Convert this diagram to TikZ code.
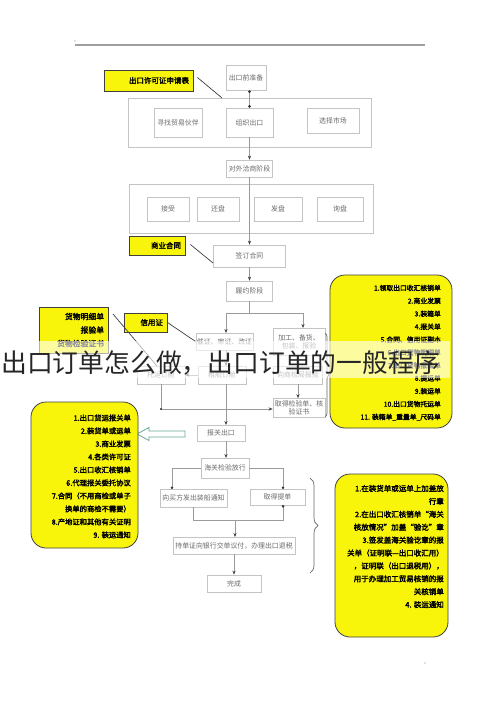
\documentclass[tikz,border=0pt]{standalone}
\usepackage{fontspec}
\newfontfamily\cjk[AutoFakeBold=2.5]{Noto Sans CJK SC}
\usetikzlibrary{arrows.meta,decorations.pathreplacing,calc}
\definecolor{ylw}{HTML}{F9F50A}
\definecolor{gline}{HTML}{9A9A9A}
\definecolor{gbord}{HTML}{C4C4C4}
\definecolor{gtext}{HTML}{6A6A6A}
\definecolor{hollow}{HTML}{6AAA96}
\begin{document}
\begin{tikzpicture}[x=1pt,y=-1pt,
  gbox/.style={draw=gbord, fill=white, line width=0.7pt, inner sep=0pt,
    font=\cjk\fontsize{6.9}{8.2}\selectfont, text=gtext, align=center},
  bigbox/.style={draw=gbord, line width=0.7pt, inner sep=0pt},
  ybox/.style={draw=black!75, fill=ylw, line width=0.8pt, inner ysep=0pt, inner xsep=4pt,
    font=\cjk\bfseries\fontsize{7.5}{9}\selectfont, align=right},
  ylist/.style={draw=black!75, fill=ylw, line width=0.8pt, rounded corners=15pt, inner sep=0pt},
  ytext/.style={inner sep=0pt, align=right, text=black},
  flow/.style={draw=gline, line width=0.7pt},
  arr/.style={flow, -{Stealth[length=4pt,width=3.2pt,color=black!75]}},
  dotarr/.style={flow, -{Circle[length=2.6pt,color=black!80]}},
  conn/.style={draw=black!75, line width=0.7pt},
  bracestyle/.style={draw=black!60, line width=0.7pt}
]
\useasboundingbox (0,0) rectangle (500,708);
\fill[white] (0,0) rectangle (500,708);

% top rule and specks
\draw[gray!75, line width=1.2pt] (75,45) -- (425,45);
\fill[gray] (75,41) circle (0.6);
\fill[gray] (425,663) circle (0.7);

% ---------- upper flow ----------
\node[gbox, minimum width=40pt, minimum height=25pt] (qian) at (246,77.5) {出口前准备};
\node[bigbox, minimum width=243pt, minimum height=49pt] (big1) at (249.5,122.5) {};
\node[gbox, minimum width=48pt, minimum height=29pt] (b1a) at (178,122.5) {寻找贸易伙伴};
\node[gbox, minimum width=47pt, minimum height=29pt] (b1b) at (249.5,122.5) {组织出口};
\node[gbox, minimum width=52pt, minimum height=25pt] (b1c) at (333,120.5) {选择市场};

\node[gbox, minimum width=46pt, minimum height=17pt] (duiwai) at (249.5,168.5) {对外洽商阶段};
\node[bigbox, minimum width=244pt, minimum height=49pt] (big2) at (251,208.5) {};
\node[gbox, minimum width=42pt, minimum height=24pt] (b2a) at (168,209) {接受};
\node[gbox, minimum width=42pt, minimum height=24pt] (b2b) at (218,209) {还盘};
\node[gbox, minimum width=48pt, minimum height=24pt] (b2c) at (278,209) {发盘};
\node[gbox, minimum width=46pt, minimum height=24pt] (b2d) at (340,209) {询盘};

\node[gbox, minimum width=72pt, minimum height=22pt] (qianding) at (249.5,256) {签订合同};
\node[gbox, minimum width=46pt, minimum height=20pt] (lvyue) at (249.5,291) {履约阶段};

\draw[flow, {Circle[length=2.6pt,color=black!80]}-{Circle[length=2.6pt,color=black!80]}]
  (qian.south -| b1b.north) -- (b1b.north);
\draw[arr] (b1b.south) -- (duiwai.north);
\draw[arr] (duiwai.south) -- (qianding.north);
\draw[arr] (qianding.south) -- (lvyue.north);

% yellow notes (upper)
\node[ybox, text width=81pt, minimum height=21pt] (y1) at (148.5,80.5) {出口许可证申请表};
\coordinate (y1end) at (222,98);
\draw[conn] (y1.east) ++(4,-3) -- (y1end);
\node[ybox, text width=48pt, minimum height=19pt] (y2) at (157,245.5) {商业合同};
\coordinate (y2end) at (213,263);
\draw[conn] (y2.east) ++(5,-1) -- (y2end);

% ---------- middle branch ----------
\node[gbox, minimum width=57pt, minimum height=17pt] (c1) at (224.5,341.5) {催证、审证、改证};
\node[gbox, minimum width=52pt, minimum height=27pt] (r1) at (299,341.5) {加工、备货、\\包装、报验};
\node[gbox, minimum width=48pt, minimum height=18pt] (L3) at (161,375) {托运订舱};
\node[gbox, minimum width=48pt, minimum height=18pt] (M3) at (222,375) {租船订舱};
\node[gbox, minimum width=49pt, minimum height=18pt] (R3) at (298,375) {向商检局报验};
\node[gbox, minimum width=52pt, minimum height=19pt] (T3) at (299,408) {取得检验单、核\\验证书};

\coordinate (split) at (249.5,313);
\draw[flow] (lvyue.south) -- (split);
\draw[flow] (226,313) -- (303,313);
\draw[arr] (226,313) -- (226,333);
\draw[arr] (303,313) -- (303,328);
\draw[arr] (226,350) -- (226,366);
\draw[arr] (M3.west) -- (L3.east);
\draw[arr] (R3.north |- r1.south) -- (R3.north);
\draw[arr] (R3.south) -- (R3.south |- T3.north);
\coordinate (lcorner) at (161,409);
\draw[flow] (L3.south) -- (lcorner);
\draw[arr] (lcorner) -- (lcorner -| T3.west);
\fill[black!80] (lcorner) circle (1.2);

\node[ybox, text width=35pt, minimum height=19pt] (y3) at (145.5,322.5) {信用证};
\draw[conn] (y3.east) -- (c1.west);
\node[ybox, text width=61pt, minimum height=46pt, font=\cjk\bfseries\fontsize{7.8}{13.5}\selectfont] (y4) at (73.5,330) {货物明细单\\报验单\\货物检验证书};
\coordinate (y4end) at (157,366);
\draw[conn] (113,314) -- (y4end);

\draw[bracestyle, decorate, decoration={brace, amplitude=4pt}] (325,333) -- (325,417);

% ---------- lower flow ----------
\node[gbox, minimum width=48pt, minimum height=16pt] (baoguan) at (221,433) {报关出口};
\draw[arr] (226,384) -- (226,425);
\node[gbox, minimum width=48pt, minimum height=20pt] (haiguan) at (225,468) {海关检验放行};
\draw[arr] (226,441) -- (226,458);
\node[gbox, minimum width=67pt, minimum height=18pt] (tz) at (193.5,498) {向买方发出装船通知};
\node[gbox, minimum width=55pt, minimum height=16pt] (td) at (277.5,497) {取得提单};
\draw[dotarr] (haiguan.west) -| (172,489);
\draw[dotarr] (haiguan.east) -| (283,489);
\draw[dotarr] (tz.south) |- (283,520) -- (283,505);
\node[gbox, minimum width=122pt, minimum height=17pt] (cd) at (234,545.5) {持单证向银行交单议付，办理出口退税};
\draw[arr] (235,520) -- (235,537);
\node[gbox, minimum width=54pt, minimum height=17pt] (wc) at (234,583.5) {完成};
\draw[arr] (cd.south) -- (wc.north);

\draw[bracestyle, decorate, decoration={brace, amplitude=8pt}] (310,478) -- (310,573);

% hollow arrow
\draw[draw=hollow, fill=white, line width=0.8pt]
  (185,431) -- (149,431) -- (149,427.5) -- (137,434) -- (149,440.5) -- (149,437) -- (185,437) -- cycle;

% ---------- yellow lists ----------
\node[ylist, minimum width=122pt, minimum height=153pt] (yr1) at (391,351.5) {};
\node[ytext, anchor=north east, font=\cjk\bfseries\fontsize{6.8}{12.9}\selectfont] (yr1t) at (441,284.6)
  {1.领取出口收汇核销单\\2.商业发票\\3.装箱单\\4.报关单\\5.合同、信用证副本\\6.出口货物明细单\\7.出口货物报验单\\8.提运单\\9.装运单\\10.出口货物托运单\\11. 装箱单\_重量单\_尺码单};

\node[ylist, minimum width=107pt, minimum height=146pt] (yl) at (84.5,475) {};
\node[ytext, anchor=north east, font=\cjk\bfseries\fontsize{7.3}{13}\selectfont] (ylt) at (131,414.3)
  {1.出口货运报关单\\2.装货单或运单\\3.商业发票\\4.各类许可证\\5.出口收汇核销单\\6.代理报关委托协议\\7.合同（不用商检或单子\\换单的商检不需要）\\8.产地证和其他有关证明\\9. 装运通知};

\node[ylist, minimum width=113pt, minimum height=163pt] (yr2) at (391.5,555.5) {};
\node[ytext, anchor=north east, font=\cjk\bfseries\fontsize{7.5}{12.9}\selectfont] (yr2t) at (444,484.8)
  {1.在装货单或运单上加盖放\\行章\hspace*{10pt}\\2.在出口收汇核销单“海关\\核放情况”加盖“验讫”章\\3.签发盖海关验讫章的报\\关单（证明联—出口收汇用）\\，证明联（出口退税用），\\用于办理加工贸易核销的报\\关核销单\\4. 装运通知};

% ---------- overlay title ----------
\fill[white, opacity=0.6] (0,341) rectangle (450,378);
\node[inner sep=0pt, anchor=west, text=black!85, font=\cjk\fontsize{25.8}{27}\selectfont] (title) at (1,362.5)
  {出口订单怎么做，出口订单的一般程序};
\end{tikzpicture}
\end{document}
